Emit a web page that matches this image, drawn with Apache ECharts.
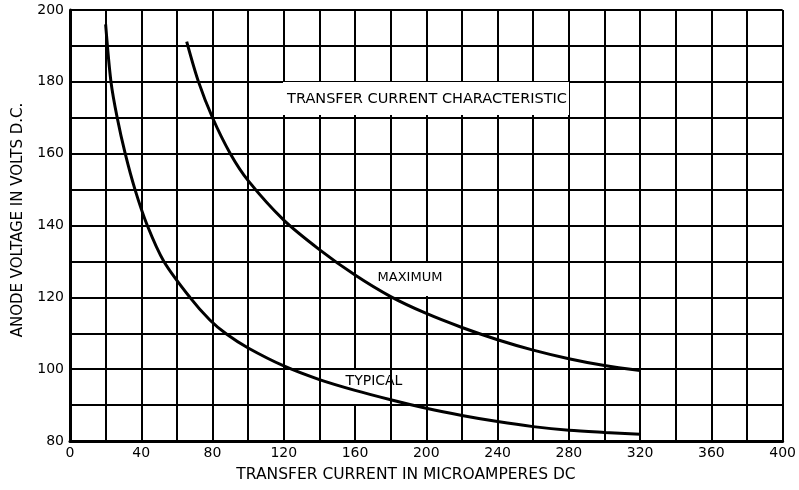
<!DOCTYPE html>
<html>
<head>
<meta charset="utf-8">
<script src="https://cdn.jsdelivr.net/npm/echarts@6/dist/echarts.min.js"></script>
<style>html,body{margin:0;padding:0;background:#fff}#c{width:799px;height:490px}</style>
</head>
<body>
<div id="c"></div>
<script>
// Typical curve (transfer current µA, anode voltage V)
var typicalX = [20, 23, 26.5, 31, 36.5, 43.4, 52.7, 67.3, 78.5, 88, 100, 120, 140, 160, 180, 200, 220, 240, 260, 280, 300, 320];
var typicalY = [196, 180, 170, 160, 150, 140, 130, 120, 113.7, 109.7, 105.9, 100.9, 97.1, 94.1, 91.5, 89.1, 87.1, 85.4, 84.0, 83.0, 82.4, 81.9];
// Maximum curve
var maximumX = [65.5, 72, 80, 90, 100, 120, 140, 160, 180, 200, 220, 240, 260, 280, 300, 320];
var maximumY = [191.2, 180.2, 170, 160, 152.5, 141.5, 133.3, 126.2, 120.2, 115.5, 111.6, 108.2, 105.3, 102.9, 101.0, 99.6];

var xTickLabels = [0, 40, 80, 120, 160, 200, 240, 280, 320, 360, 400];
var yTickLabels = [80, 100, 120, 140, 160, 180, 200];

var titleText = 'TRANSFER CURRENT CHARACTERISTIC';
var xName = 'TRANSFER CURRENT IN MICROAMPERES DC';
var yName = 'ANODE VOLTAGE IN VOLTS D.C.';

function pairs(xs, ys) { return xs.map(function (x, i) { return [x, ys[i]]; }); }

var FONT = 'DejaVu Sans';
var chart = echarts.init(document.getElementById('c'), null, { renderer: 'canvas' });
chart.setOption({
  animation: false,
  backgroundColor: '#fff',
  grid: { left: 70, right: 16, top: 10, bottom: 49, containLabel: false },
  xAxis: {
    type: 'value', min: 0, max: 400, interval: 20,
    axisLine: { show: true, lineStyle: { color: '#000', width: 3 } },
    axisTick: { show: false },
    axisLabel: {
      color: '#000', fontFamily: FONT, fontSize: 14, margin: 5,
      formatter: function (v) { return xTickLabels.indexOf(v) >= 0 ? String(v) : ''; }
    },
    splitLine: { show: true, lineStyle: { color: '#000', width: 2 } }
  },
  yAxis: {
    type: 'value', min: 80, max: 200, interval: 10,
    axisLine: { show: true, lineStyle: { color: '#000', width: 3 } },
    axisTick: { show: false },
    axisLabel: {
      color: '#000', fontFamily: FONT, fontSize: 14, margin: 6,
      formatter: function (v) { return yTickLabels.indexOf(v) >= 0 ? String(v) : ''; }
    },
    splitLine: { show: true, lineStyle: { color: '#000', width: 2 } }
  },
  series: [
    {
      name: 'TYPICAL', type: 'line', data: pairs(typicalX, typicalY),
      showSymbol: false, symbol: 'none', smooth: 0.3,
      lineStyle: { color: '#000', width: 3 }, z: 5
    },
    {
      name: 'MAXIMUM', type: 'line', data: pairs(maximumX, maximumY),
      showSymbol: false, symbol: 'none', smooth: 0.3,
      lineStyle: { color: '#000', width: 3 }, z: 5
    }
  ],
  graphic: [
    { type: 'rect', shape: { x: 283, y: 82, width: 286, height: 33 }, style: { fill: '#fff' }, z: 1 },
    { type: 'text', x: 427, y: 99, z: 11, style: { text: titleText, fill: '#000', font: '14.5px "' + FONT + '"', align: 'center', verticalAlign: 'middle' } },
    { type: 'rect', shape: { x: 357, y: 263, width: 103, height: 33 }, style: { fill: '#fff' }, z: 1 },
    { type: 'text', x: 410, y: 278, z: 11, style: { text: 'MAXIMUM', fill: '#000', font: '13px "' + FONT + '"', align: 'center', verticalAlign: 'middle' } },
    { type: 'rect', shape: { x: 321, y: 370, width: 69, height: 34 }, style: { fill: '#fff' }, z: 1 },
    { type: 'text', x: 374, y: 381, z: 11, style: { text: 'TYPICAL', fill: '#000', font: '14px "' + FONT + '"', align: 'center', verticalAlign: 'middle' } },
    { type: 'text', x: 406, y: 475, z: 11, style: { text: xName, fill: '#000', font: '15.5px "' + FONT + '"', align: 'center', verticalAlign: 'middle' } },
    { type: 'text', x: 18, y: 220, rotation: Math.PI / 2, z: 11, style: { text: yName, fill: '#000', font: '15px "' + FONT + '"', align: 'center', verticalAlign: 'middle' } }
  ]
});
</script>
</body>
</html>
